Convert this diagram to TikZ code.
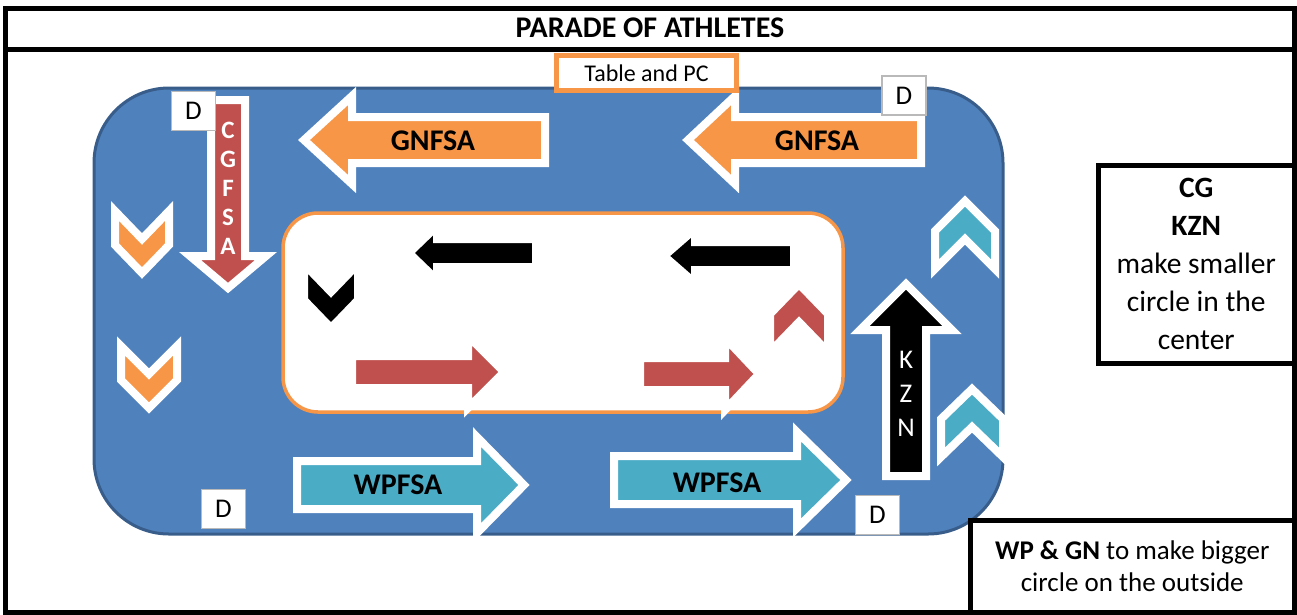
\documentclass[tikz,border=0pt]{standalone}
\usepackage{fontspec}
\setmainfont{Carlito}
\definecolor{pblue}{HTML}{4F81BD}
\definecolor{pblueline}{HTML}{385D8A}
\definecolor{porange}{HTML}{F79646}
\definecolor{pred}{HTML}{C0504D}
\definecolor{pteal}{HTML}{4BACC6}
% block arrows: style, tail, head base, tip, centre, shaft half, head half
\newcommand{\harrow}[7]{\filldraw[#1] (#2,#5-#6) -- (#3,#5-#6) -- (#3,#5-#7) -- (#4,#5)
  -- (#3,#5+#7) -- (#3,#5+#6) -- (#2,#5+#6) -- cycle;}
\newcommand{\varrow}[7]{\filldraw[#1] (#5-#6,#2) -- (#5-#6,#3) -- (#5-#7,#3) -- (#5,#4)
  -- (#5+#7,#3) -- (#5+#6,#3) -- (#5+#6,#2) -- cycle;}
% chevron: style, x, y, half width, half height, depth, 1 = down / -1 = up
\newcommand{\chev}[7]{\filldraw[#1] ({#2-#4},{#3-(#7)*#5}) -- (#2,{#3-(#7)*#5+(#7)*#6})
  -- ({#2+#4},{#3-(#7)*#5}) -- ({#2+#4},{#3+(#7)*#5-(#7)*#6}) -- (#2,{#3+(#7)*#5})
  -- ({#2-#4},{#3+(#7)*#5-(#7)*#6}) -- cycle;}
\begin{document}
\begin{tikzpicture}[x=1pt,y=-1pt,
  frame/.style={draw=black,line width=5pt},
  shape/.style={draw=white,line width=8pt,line join=miter,fill=#1},
  dbox/.style={draw=gray!55,fill=white,line width=1.5pt,minimum width=44pt,minimum height=39pt,
    inner sep=0pt,font=\fontsize{27}{29}\selectfont},
  big/.style={font=\fontsize{30}{32}\selectfont\bfseries},
  note/.style={frame,fill=white,align=center,inner sep=0pt}]
\useasboundingbox (0,0) rectangle (1297,614);
\draw[frame] (5.5,8.5) rectangle (1294.5,612);
\draw[frame] (5.5,49) -- (1294.5,49);
\node[big] (title) at (650,28) {PARADE OF ATHLETES};

\draw[fill=pblue,draw=pblueline,line width=3pt,rounded corners=75pt] (94,88) rectangle (1003,534);
\draw[fill=white,draw=porange,line width=3.5pt,rounded corners=35pt] (283,213) rectangle (843,412);

% outer circle
\harrow{shape=porange}{545}{352}{304}{140}{23}{44}
\harrow{shape=porange}{921}{735}{688}{140}{23}{44}
\node[big] (gn1) at (433,141) {GNFSA};
\node[big] (gn2) at (817,141) {GNFSA};
\harrow{shape=pteal}{297}{477}{524}{485}{24}{48}
\harrow{shape=pteal}{614}{797}{846}{480}{24}{48}
\node[big] (wp1) at (398,485) {WPFSA};
\node[big] (wp2) at (717,483) {WPFSA};
\varrow{shape=pred}{100}{256}{288}{228}{17}{38}
\foreach \l [count=\i] in {C,G,F,S,A}
  \node[font=\fontsize{25}{27}\selectfont\bfseries,text=white] (cg\i) at (228,101+29*\i) {\l};
\varrow{shape=black}{476}{330}{284}{906}{20}{46}
\foreach \l [count=\i] in {K,Z,N}
  \node[font=\fontsize{27}{29}\selectfont,text=white] (kzn\i) at (906,326+34*\i) {\l};
\chev{shape=porange}{142}{242}{27}{31}{28}{1}
\chev{shape=porange}{149}{377}{28}{31}{28}{1}
\chev{shape=pteal}{965}{235}{30}{34}{30}{-1}
\chev{shape=pteal}{972}{423}{31}{34}{30}{-1}

% inner circle
\harrow{shape=black}{536}{437}{409}{253}{14}{27}
\harrow{shape=black}{794}{695}{664}{256}{14}{27}
\harrow{shape=pred}{352}{468}{504}{372}{16}{36}
\harrow{shape=pred}{640}{725}{759}{374}{16}{36}
\chev{shape=black}{331}{296}{27}{32}{28}{1}
\chev{shape=pred}{799}{318}{29}{34}{30}{-1}

\node[dbox] (d1) at (193.5,111) {D};
\node[dbox] (d2) at (904,95.5) {D};
\node[dbox] (d3) at (223.5,509) {D};
\node[dbox] (d4) at (877.5,515) {D};
\node[draw=porange,fill=white,line width=4.5pt,minimum width=180pt,minimum height=35pt,
  font=\fontsize{24}{26}\selectfont] (table) at (646.5,73) {Table and PC};

\node[note,minimum width=196pt,minimum height=198pt,font=\fontsize{29.5}{38}\selectfont] (cgnote)
  at (1196.25,264) {\textbf{CG}\\\textbf{KZN}\\make smaller\\circle in the\\center};
\node[note,minimum width=324pt,minimum height=92pt,font=\fontsize{27}{32}\selectfont] (wpnote)
  at (1132.25,566) {\textbf{WP \& GN} to make bigger\\circle on the outside};
\end{tikzpicture}
\end{document}
